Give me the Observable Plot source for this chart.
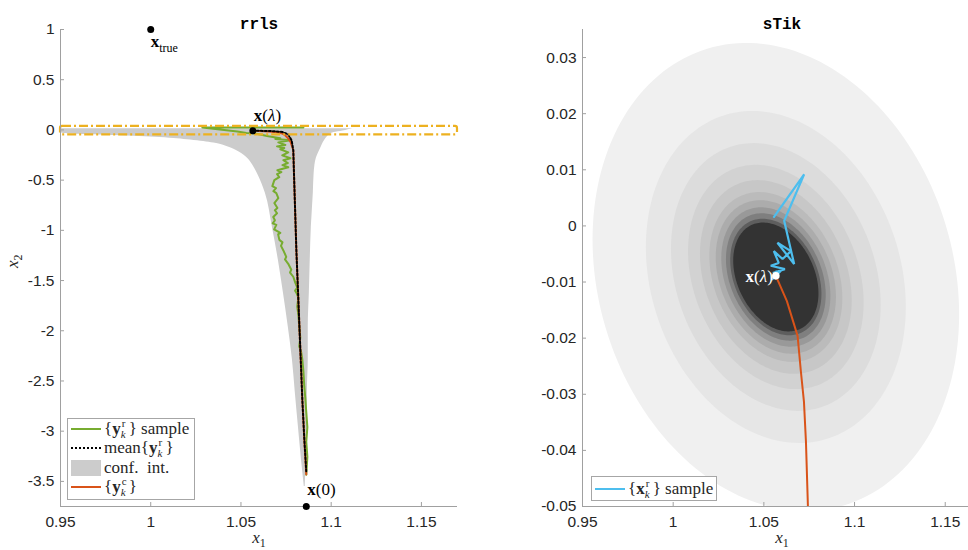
<!DOCTYPE html>
<html><head><meta charset="utf-8">
<script src="https://cdn.jsdelivr.net/npm/d3@7"></script>
<script src="https://cdn.jsdelivr.net/npm/@observablehq/plot@0.6"></script>
<style>
html,body{margin:0;padding:0;background:#fff;}
#fig{position:relative;width:968px;height:550px;overflow:hidden;background:#fff;}
.panel{position:absolute;top:0;}
.panel svg{max-width:none !important;}
.legend{position:absolute;background:#fff;border:1px solid #a6a6a6;font-family:"Liberation Serif",serif;font-size:17px;color:#262626;box-sizing:border-box;padding:0 3px;}
.row{display:flex;align-items:center;white-space:nowrap;}
.sw{width:30px;flex:none;margin-right:3px;display:flex;align-items:center;}
.ss{position:relative;display:inline-block;width:8px;height:10px;}
.ss .up{position:absolute;left:1px;bottom:5px;font-size:11px;line-height:11px;}
.ss .dn{position:absolute;left:0px;top:5px;font-size:11px;line-height:11px;}
</style></head><body><div id="fig"></div>
<script>
// ---------- data ----------
const xTicks = [0.95, 1, 1.05, 1.1, 1.15];
const xTickLabels = ["0.95", "1", "1.05", "1.1", "1.15"];
const yTicksL = [1, 0.5, 0, -0.5, -1, -1.5, -2, -2.5, -3, -3.5];
const yTickLabelsL = ["1", "0.5", "0", "-0.5", "-1", "-1.5", "-2", "-2.5", "-3", "-3.5"];
const yTicksR = [0.03, 0.02, 0.01, 0, -0.01, -0.02, -0.03, -0.04, -0.05];
const yTickLabelsR = ["0.03", "0.02", "0.01", "0", "-0.01", "-0.02", "-0.03", "-0.04", "-0.05"];
const xDomain = [0.95, 1.17];
const yDomainL = [-3.75, 1];
const yDomainR = [-0.05, 0.035];

const xTrue = [1.0, 1.0];
const xLambda = [1.0566, -0.0089];
const xZero = [1.0862, -3.75];

// {y_k^r} sample (rrls)
const sampleX = [1.0846, 1.0286, 1.0480, 1.0530, 1.0580, 1.0652, 1.0718, 1.0690, 1.0774, 1.0707, 1.0746, 1.0700, 1.0740, 1.0718, 1.0762, 1.0729, 1.0774, 1.0735, 1.0760, 1.0730, 1.0762, 1.0702, 1.0724, 1.0700, 1.0712, 1.0685, 1.0674, 1.0694, 1.0680, 1.0696, 1.0707, 1.0685, 1.0702, 1.0688, 1.0700, 1.0679, 1.0688, 1.0676, 1.0696, 1.0684, 1.0718, 1.0706, 1.0713, 1.0730, 1.0722, 1.0735, 1.0751, 1.0744, 1.0762, 1.0779, 1.0772, 1.0790, 1.0801, 1.0812, 1.0800, 1.0807, 1.0818, 1.0812, 1.0818, 1.0823, 1.0829, 1.0823, 1.0834, 1.0840, 1.0846, 1.0851, 1.0857, 1.0862, 1.0868, 1.0862, 1.0868, 1.0862];
const sampleY = [0.025, 0.025, -0.015, -0.030, -0.035, -0.064, -0.084, -0.090, -0.104, -0.124, -0.150, -0.164, -0.180, -0.193, -0.223, -0.253, -0.282, -0.302, -0.330, -0.350, -0.372, -0.402, -0.420, -0.440, -0.470, -0.500, -0.560, -0.580, -0.610, -0.629, -0.679, -0.728, -0.778, -0.800, -0.830, -0.867, -0.900, -0.930, -0.946, -0.990, -1.026, -1.040, -1.095, -1.120, -1.155, -1.200, -1.264, -1.290, -1.333, -1.392, -1.420, -1.462, -1.521, -1.571, -1.600, -1.620, -1.670, -1.759, -1.838, -1.957, -2.067, -2.156, -2.215, -2.284, -2.403, -2.552, -2.681, -2.810, -2.959, -3.107, -3.256, -3.434];

// mean{y_k^r}
const meanX = [1.0566, 1.0663, 1.0729, 1.0762, 1.0781, 1.0790, 1.0795, 1.0807, 1.0818, 1.0829, 1.0840, 1.0851, 1.0862];
const meanY = [-0.0089, -0.010, -0.020, -0.045, -0.104, -0.203, -0.500, -1.194, -1.690, -2.185, -2.681, -3.077, -3.404];

// {y_k^c}
const ycX = [1.0566, 1.0627, 1.0686, 1.0704, 1.0721, 1.0732, 1.0743, 1.0760, 1.0775, 1.0790, 1.0795, 1.0807, 1.0818, 1.0829, 1.0840, 1.0851, 1.0862];
const ycY = [-0.0089, -0.0134, -0.0196, -0.0259, -0.0313, -0.0384, -0.050, -0.080, -0.120, -0.200, -0.500, -1.194, -1.690, -2.185, -2.681, -3.077, -3.430];

// confidence interval band
const ciY = [0.012, -0.010, -0.025, -0.040, -0.055, -0.075, -0.100, -0.130, -0.170, -0.220, -0.280, -0.350, -0.450, -0.629, -0.966, -1.293, -1.620, -1.957, -2.284, -2.612, -2.949, -3.276, -3.550];
const ciLo = [0.95, 0.95, 0.95, 0.955, 0.980, 1.005, 1.022, 1.035, 1.043, 1.049, 1.0535, 1.0565, 1.0595, 1.0635, 1.0674, 1.0707, 1.0735, 1.0762, 1.0785, 1.0801, 1.0818, 1.0835, 1.0851];
const ciHi = [1.112, 1.1065, 1.1015, 1.0995, 1.0985, 1.0975, 1.0965, 1.0955, 1.0945, 1.0932, 1.0918, 1.0910, 1.0905, 1.0901, 1.0890, 1.0884, 1.0879, 1.0873, 1.0873, 1.0868, 1.0868, 1.0862, 1.0856];

// {x_k^r} sample (sTik)
const sTikX = [1.0556, 1.0722, 1.0612, 1.0667, 1.0575, 1.0649, 1.0603, 1.0555, 1.0582, 1.0538, 1.0616, 1.0549, 1.0594, 1.0544, 1.0571, 1.0566];
const sTikY = [0.0016, 0.0092, 0.0009, -0.0068, -0.0030, -0.0045, -0.0059, -0.0045, -0.0066, -0.0071, -0.0077, -0.0084, -0.0080, -0.0096, -0.0080, -0.0089];

// density level sets (sTik)
const ringR = [4.3, 3.05, 2.46, 2.06, 1.78, 1.56, 1.41, 1.28, 1.17, 1.07, 1.0];
const ringRho = [-0.16, -0.18, -0.21, -0.23, -0.24, -0.25, -0.26, -0.27, -0.28, -0.29, -0.30];
const ringGray = ["#f0f0f0", "#e6e6e6", "#dcdcdc", "#d2d2d2", "#c7c7c7", "#bbbbbb", "#acacac", "#999999", "#7f7f7f", "#5e5e5e", "#333333"];
const ellCenter = [1.0566, -0.0091];
const ellSpread = [0.0235, 0.0097];

// ---------- helpers ----------
const axisGray = "#a0a0a0";
const C = {green: "#77AC30", orange: "#D95319", blue: "#4DBEEE", yellow: "#EDB120", ci: "#cccccc"};
const rows = (xs, ys) => xs.map((x, i) => ({x, y: ys[i]}));
const fmt = (vals, labels) => d => {const i = vals.findIndex(v => Math.abs(v - d) < 1e-9); return i < 0 ? "" : labels[i];};
function ellipse(r, rho) {
  const out = [];
  const s = Math.sqrt(1 - rho * rho);
  for (let k = 0; k <= 180; k++) {
    const t = (k / 180) * 2 * Math.PI;
    const u = r * Math.cos(t), v = r * (rho * Math.cos(t) + s * Math.sin(t));
    out.push({x: ellCenter[0] + ellSpread[0] * u, y: ellCenter[1] + ellSpread[1] * v});
  }
  return out;
}
const mathFont = "Liberation Serif";
const baseStyle = {fontFamily: "Liberation Sans, Arial, sans-serif", fontSize: "15.5px", color: "#262626", background: "transparent", overflow: "visible", maxWidth: "none"};

function frameMarks(xd, yd, yT, fw, fh) {
  return [
    Plot.ruleX([xd[0]], {stroke: axisGray}),
    Plot.ruleY([yd[0]], {stroke: axisGray}),
    Plot.ruleX(xTicks, {stroke: axisGray, insetTop: fh - 4}),
    Plot.ruleY(yT, {stroke: axisGray, insetRight: fw - 4})
  ];
}

// ---------- left panel ----------
const L = {w: 480, h: 550, ml: 60, mr: 23, mt: 29, mb: 44};
const left = Plot.plot({
  width: L.w, height: L.h, marginLeft: L.ml, marginRight: L.mr, marginTop: L.mt, marginBottom: L.mb,
  style: baseStyle,
  x: {domain: xDomain, ticks: xTicks, tickSize: 0, tickPadding: 9, tickFormat: fmt(xTicks, xTickLabels), label: null},
  y: {domain: yDomainL, ticks: yTicksL, tickSize: 0, tickPadding: 6, tickFormat: fmt(yTicksL, yTickLabelsL), label: null},
  marks: [
    Plot.areaX(ciY.map((y, i) => ({y, lo: ciLo[i], hi: ciHi[i]})), {y: "y", x1: "lo", x2: "hi", fill: C.ci, curve: "monotone-y"}),
    Plot.line(rows(sampleX, sampleY), {x: "x", y: "y", stroke: C.green, strokeWidth: 2}),
    Plot.line(rows(ycX, ycY), {x: "x", y: "y", stroke: C.orange, strokeWidth: 2}),
    Plot.line(rows(meanX, meanY), {x: "x", y: "y", stroke: "#000", strokeWidth: 2, strokeDasharray: "2 2"}),
    Plot.rect([{x1: xDomain[0], x2: xDomain[1], y1: yDomainR[0], y2: yDomainR[1]}], {x1: "x1", x2: "x2", y1: "y1", y2: "y2", fill: "none", stroke: C.yellow, strokeWidth: 2.2, strokeDasharray: "9 3 2 3", rx: 2}),
    ...frameMarks(xDomain, yDomainL, yTicksL, L.w - L.ml - L.mr, L.h - L.mt - L.mb),
    Plot.dot([xTrue, xLambda, xZero], {x: d => d[0], y: d => d[1], r: 3.5, fill: "#000", stroke: "none"}),
    Plot.text([xTrue], {x: d => d[0], y: d => d[1], text: () => "xtrue", textAnchor: "start", dx: 0, dy: 12, fontFamily: mathFont, fontSize: 17, fill: "#000"}),
    Plot.text([xLambda], {x: d => d[0], y: d => d[1], text: () => "x(λ)", textAnchor: "start", dx: 1, dy: -15, fontFamily: mathFont, fontSize: 17, fill: "#000"}),
    Plot.text([xZero], {x: d => d[0], y: d => d[1], text: () => "x(0)", textAnchor: "start", dx: 1, dy: -17, fontFamily: mathFont, fontSize: 17, fill: "#000"}),
    Plot.text(["rrls"], {frameAnchor: "top", dy: -12, fontFamily: "Liberation Mono", fontWeight: "bold", fontSize: 16, fill: "#000"}),
    Plot.text(["x1"], {frameAnchor: "bottom", dy: 36, fontFamily: mathFont, fontSize: 17, fill: "#262626"}),
    Plot.text(["x2"], {frameAnchor: "left", dx: -48, rotate: -90, fontFamily: mathFont, fontSize: 17, fill: "#262626"})
  ]
});

// ---------- right panel ----------
const R = {w: 500, h: 550, ml: 82, mr: 19, mt: 29, mb: 44};
const right = Plot.plot({
  width: R.w, height: R.h, marginLeft: R.ml, marginRight: R.mr, marginTop: R.mt, marginBottom: R.mb,
  style: baseStyle,
  x: {domain: xDomain, ticks: xTicks, tickSize: 0, tickPadding: 9, tickFormat: fmt(xTicks, xTickLabels), label: null},
  y: {domain: yDomainR, ticks: yTicksR, tickSize: 0, tickPadding: 6, tickFormat: fmt(yTicksR, yTickLabelsR), label: null},
  marks: [
    ...ringR.map((r, i) => Plot.line(ellipse(r, ringRho[i]), {x: "x", y: "y", fill: ringGray[i], stroke: "none", clip: true})),
    Plot.line(rows(ycX, ycY), {x: "x", y: "y", stroke: C.orange, strokeWidth: 2, clip: true}),
    Plot.line(rows(sTikX, sTikY), {x: "x", y: "y", stroke: C.blue, strokeWidth: 2.2, strokeLinejoin: "miter"}),
    ...frameMarks(xDomain, yDomainR, yTicksR, R.w - R.ml - R.mr, R.h - R.mt - R.mb),
    Plot.dot([xLambda], {x: d => d[0], y: d => d[1], r: 3.8, fill: "#fff", stroke: "none"}),
    Plot.text([xLambda], {x: d => d[0], y: d => d[1], text: () => "x(λ)", textAnchor: "end", dx: -3, dy: 1, fontFamily: mathFont, fontSize: 17, fill: "#fff"}),
    Plot.text(["sTik"], {frameAnchor: "top", dy: -12, fontFamily: "Liberation Mono", fontWeight: "bold", fontSize: 16, fill: "#000"}),
    Plot.text(["x1"], {frameAnchor: "bottom", dy: 36, fontFamily: mathFont, fontSize: 17, fill: "#262626"})
  ]
});

// rich math text
const rich = {
  "x(λ)": '<tspan font-weight="bold">x</tspan>(<tspan font-style="italic">λ</tspan>)',
  "x(0)": '<tspan font-weight="bold">x</tspan>(0)',
  "xtrue": '<tspan font-weight="bold">x</tspan><tspan dy="5" font-size="12">true</tspan>',
  "x1": '<tspan font-style="italic">x</tspan><tspan dy="4" font-size="12">1</tspan>',
  "x2": '<tspan font-style="italic">x</tspan><tspan dy="4" font-size="12">2</tspan>'
};
for (const svg of [left, right]) {
  svg.style.maxWidth = "none";
  svg.querySelectorAll("text").forEach(t => {
    if (t.children.length === 0 && rich[t.textContent] !== undefined) t.innerHTML = rich[t.textContent];
  });
}

const fig = document.getElementById("fig");
const pl = document.createElement("div"); pl.className = "panel"; pl.style.left = "0px"; pl.style.width = L.w + "px"; pl.appendChild(left);
const pr = document.createElement("div"); pr.className = "panel"; pr.style.left = "500px"; pr.style.width = R.w + "px"; pr.appendChild(right);
fig.appendChild(pl); fig.appendChild(pr);

// ---------- legends ----------
const lineSw = (color, dash) => `<svg width="30" height="4"><line x1="0" y1="2" x2="30" y2="2" stroke="${color}" stroke-width="2" ${dash ? `stroke-dasharray="${dash}"` : ""}/></svg>`;
const ss = (sup) => `<span class="ss"><span class="up">${sup}</span><span class="dn"><i>k</i></span></span>`;
const ySym = (sup) => `{<b>y</b>${ss(sup)}}`;
const xSym = (sup) => `{<b>x</b>${ss(sup)}}`;
const legL = [
  {sw: lineSw(C.green), label: ySym("r") + " sample"},
  {sw: lineSw("#000", "2 2"), label: "mean" + ySym("r")},
  {sw: `<div style="width:30px;height:16px;background:${C.ci}"></div>`, label: "conf.&nbsp; int."},
  {sw: lineSw(C.orange), label: ySym("c")}
];
const legR = [{sw: lineSw(C.blue), label: xSym("r") + " sample"}];
function makeLegend(items, x, y, w, h, rowH) {
  const d = document.createElement("div");
  d.className = "legend";
  Object.assign(d.style, {left: x + "px", top: y + "px", width: w + "px", height: h + "px"});
  d.innerHTML = items.map(it => `<div class="row" style="height:${rowH}px"><div class="sw">${it.sw}</div><span>${it.label}</span></div>`).join("");
  fig.appendChild(d);
}
makeLegend(legL, 67, 418, 128, 82, 19.5);
makeLegend(legR, 591, 476, 126, 25, 23);
</script></body></html>
